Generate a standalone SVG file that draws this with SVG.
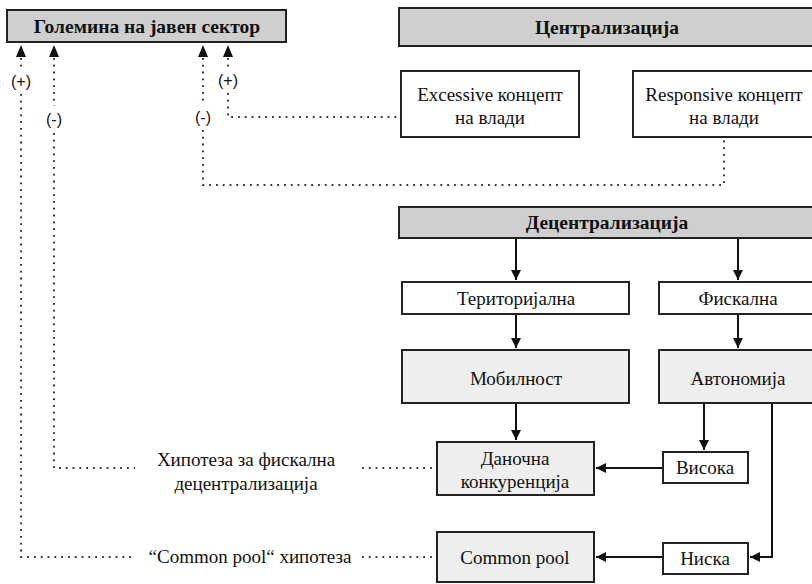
<svg xmlns="http://www.w3.org/2000/svg" width="812" height="584" viewBox="0 0 812 584">
<style>
text{font-family:"Liberation Serif","Times New Roman","DejaVu Serif",serif;font-size:19px;fill:#111;text-anchor:middle}
.t{font-weight:bold;font-size:19.5px}
.lab{font-family:"Liberation Sans",Arial,sans-serif;font-size:16px}
.hdr{fill:#cfcfcf;stroke:#222;stroke-width:2}
.box{fill:#fff;stroke:#222;stroke-width:2}
.lg{fill:#eeeeee;stroke:#222;stroke-width:2}
.sol{fill:none;stroke:#111;stroke-width:2}
.dot{fill:none;stroke:#333;stroke-width:2;stroke-dasharray:1.8 5}
</style>
<defs>
<marker id="ah" viewBox="0 0 10 10" refX="10" refY="5" markerWidth="5" markerHeight="5.5" orient="auto" markerUnits="strokeWidth">
<path d="M0,0 L10,5 L0,10 Z" fill="#111"/>
</marker>
</defs>
<rect width="812" height="584" fill="#fff"/>
<g id="connectors">
<path class="dot" d="M21,58 V69 M21,94 V557 H135"/>
<path class="dot" d="M362,557 H437"/>
<path class="dot" d="M54,58 V106 M54,133 V468 H135"/>
<path class="dot" d="M362,468 H437"/>
<path class="dot" d="M203,58 V103 M203,130 V185 H724 V137"/>
<path class="dot" d="M228,58 V67 M228,93 V117 H401"/>
<path d="M21,45 l-5,12 h10 Z M54,45 l-5,12 h10 Z M203,45 l-5,12 h10 Z M228,45 l-5,12 h10 Z" fill="#111"/>
<path class="sol" d="M516,238 V280" marker-end="url(#ah)"/>
<path class="sol" d="M738,238 V280" marker-end="url(#ah)"/>
<path class="sol" d="M516,314 V348" marker-end="url(#ah)"/>
<path class="sol" d="M738,314 V348" marker-end="url(#ah)"/>
<path class="sol" d="M516,403 V440" marker-end="url(#ah)"/>
<path class="sol" d="M704,403 V450" marker-end="url(#ah)"/>
<path class="sol" d="M663,468 H596" marker-end="url(#ah)"/>
<path class="sol" d="M772,403 V557 H750" marker-end="url(#ah)"/>
<path class="sol" d="M663,557 H596" marker-end="url(#ah)"/>
<text class="lab" x="21" y="87">(+)</text>
<text class="lab" x="54" y="125">(-)</text>
<text class="lab" x="203" y="123">(-)</text>
<text class="lab" x="228" y="86">(+)</text>
<text x="246" y="466">Хипотеза за фискална</text>
<text x="246" y="490">децентрализација</text>
<text x="250" y="563">“Common pool“ хипотеза</text>
</g>
<g id="golemina"><rect class="hdr" x="7" y="10" width="279" height="32"/><text class="t" x="147" y="33">Големина на јавен сектор</text></g>
<g id="centralizacija"><rect class="hdr" x="399" y="8" width="418" height="38"/><text class="t" x="607" y="34">Централизација</text></g>
<g id="excessive"><rect class="box" x="401" y="71" width="178" height="66"/><text x="490" y="101">Excessive концепт</text><text x="490" y="124">на влади</text></g>
<g id="responsive"><rect class="box" x="633" y="71" width="183" height="66"/><text x="724" y="101">Responsive концепт</text><text x="724" y="124">на влади</text></g>
<g id="decentralizacija"><rect class="hdr" x="399" y="207" width="418" height="31"/><text class="t" x="607" y="229">Децентрализација</text></g>
<g id="teritorijalna"><rect class="box" x="402" y="282" width="227" height="32"/><text x="516" y="305">Територијална</text></g>
<g id="fiskalna"><rect class="box" x="659" y="282" width="158" height="32"/><text x="738" y="305">Фискална</text></g>
<g id="mobilnost"><rect class="lg" x="402" y="350" width="227" height="53"/><text x="516" y="385">Мобилност</text></g>
<g id="avtonomija"><rect class="lg" x="659" y="350" width="158" height="53"/><text x="738" y="385">Автономија</text></g>
<g id="danocna"><rect class="lg" x="437" y="442" width="157" height="53"/><text x="515" y="465">Даночна</text><text x="515" y="488">конкуренција</text></g>
<g id="visoka"><rect class="box" x="663" y="452" width="85" height="31"/><text x="705" y="474">Висока</text></g>
<g id="commonpool"><rect class="lg" x="437" y="532" width="157" height="50"/><text x="515" y="564">Common pool</text></g>
<g id="niska"><rect class="box" x="663" y="543" width="85" height="31"/><text x="705" y="565">Ниска</text></g>
</svg>
